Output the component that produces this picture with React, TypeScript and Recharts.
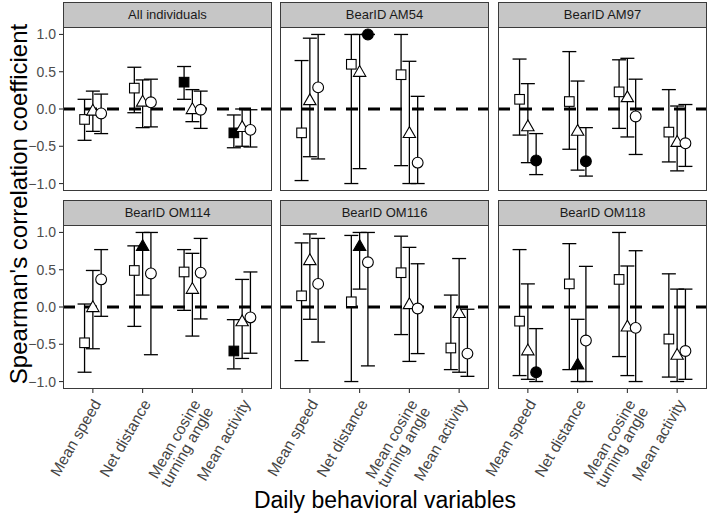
import React from "react";
import { ScatterChart, Scatter, XAxis, YAxis, ErrorBar, ReferenceLine } from "recharts";

// Behavioural variables on the x axis of every facet
const categories = ["Mean speed", "Net distance", "Mean cosine\nturning angle", "Mean activity"];
const markerShapes = ["square", "triangle", "circle"];
const yTicks = [-1, -0.5, 0, 0.5, 1];
const yTickLabels = ["\u22121.0", "\u22120.5", "0.0", "0.5", "1.0"];
const facetTitles = ["All individuals", "BearID AM54", "BearID AM97", "BearID OM114", "BearID OM116", "BearID OM118"];

// Rows: square, triangle, circle series; columns follow `categories`
const allEst = [[-0.14, 0.28, 0.36, -0.32], [-0.02, 0.1, 0.0, -0.24], [-0.06, 0.09, -0.01, -0.28]];
const allLow = [[-0.42, -0.05, 0.13, -0.52], [-0.3, -0.25, -0.17, -0.5], [-0.33, -0.24, -0.26, -0.51]];
const allHigh = [[0.13, 0.56, 0.57, -0.08], [0.24, 0.39, 0.26, 0.0], [0.2, 0.4, 0.24, -0.01]];
const allSig = [[0, 0, 1, 1], [0, 0, 0, 0], [0, 0, 0, 0]];

const am54Est = [[-0.32, 0.6, 0.46, null], [0.12, 0.5, -0.32, null], [0.29, 1.0, -0.72, null]];
const am54Low = [[-0.96, -1.0, -0.76, null], [-0.64, -0.8, -1.0, null], [-0.67, 1.0, -1.0, null]];
const am54High = [[0.65, 1.0, 1.0, null], [0.95, 1.0, 0.64, null], [1.0, 1.0, 0.17, null]];
const am54Sig = [[0, 0, 0, 0], [0, 0, 0, 0], [0, 1, 0, 0]];

const am97Est = [[0.13, 0.1, 0.23, -0.31], [-0.23, -0.29, 0.16, -0.44], [-0.69, -0.7, -0.1, -0.46]];
const am97Low = [[-0.35, -0.54, -0.26, -0.71], [-0.72, -0.82, -0.375, -0.83], [-0.88, -0.9, -0.61, -0.77]];
const am97High = [[0.67, 0.77, 0.66, 0.26], [0.34, 0.375, 0.68, 0.04], [-0.33, -0.25, 0.4, 0.06]];
const am97Sig = [[0, 0, 0, 0], [0, 0, 0, 0], [1, 1, 0, 0]];

const om114Est = [[-0.48, 0.49, 0.47, -0.59], [0.0, 0.82, 0.245, -0.19], [0.37, 0.45, 0.46, -0.14]];
const om114Low = [[-0.875, -0.26, -0.045, -0.83], [-0.56, 0.16, -0.39, -0.69], [-0.125, -0.64, -0.16, -0.62]];
const om114High = [[0.04, 0.82, 0.77, -0.17], [0.49, 1.0, 0.72, 0.37], [0.77, 1.0, 0.92, 0.47]];
const om114Sig = [[0, 0, 0, 1], [0, 1, 0, 0], [0, 0, 0, 0]];

const om116Est = [[0.15, 0.07, 0.46, -0.55], [0.63, 0.82, 0.04, -0.08], [0.31, 0.6, -0.02, -0.625]];
const om116Low = [[-0.72, -1.0, -0.37, -0.84], [-0.165, 0.24, -0.73, -0.875], [-0.47, -0.79, -0.625, -0.93]];
const om116High = [[0.86, 0.96, 0.95, 0.16], [0.98, 1.0, 0.8, 0.65], [0.92, 1.0, 0.58, -0.03]];
const om116Sig = [[0, 0, 0, 0], [0, 1, 0, 0], [0, 0, 0, 0]];

const om118Est = [[-0.19, 0.31, 0.37, -0.43], [-0.58, -0.77, -0.26, -0.64], [-0.875, -0.45, -0.28, -0.59]];
const om118Low = [[-0.92, -0.84, -0.665, -0.94], [-0.97, -1.0, -0.92, -1.0], [-1.0, -1.0, -1.0, -0.97]];
const om118High = [[0.77, 0.85, 1.0, 0.445], [0.31, -0.165, 0.55, 0.24], [-0.29, 0.545, 0.755, 0.24]];
const om118Sig = [[0, 0, 0, 0], [0, 1, 0, 0], [1, 0, 0, 0]];

const FONT = "'Liberation Sans', Arial, Helvetica, sans-serif";
const DODGE = 1 / 6;

type Pt = { x: number; y: number; err: [number, number]; shape: string; sig: boolean };

function buildPoints(est: (number | null)[][], low: (number | null)[][], high: (number | null)[][], sig: number[][]): Pt[] {
  const pts: Pt[] = [];
  est.forEach((row, s) => {
    row.forEach((v, c) => {
      if (v === null) return;
      const lo = low[s][c] as number;
      const hi = high[s][c] as number;
      pts.push({
        x: c + 1 + (s - 1) * DODGE,
        y: v,
        err: [v - lo, hi - v],
        shape: markerShapes[s],
        sig: sig[s][c] === 1,
      });
    });
  });
  return pts;
}

const facetData = [
  buildPoints(allEst, allLow, allHigh, allSig),
  buildPoints(am54Est, am54Low, am54High, am54Sig),
  buildPoints(am97Est, am97Low, am97High, am97Sig),
  buildPoints(om114Est, om114Low, om114High, om114Sig),
  buildPoints(om116Est, om116Low, om116High, om116Sig),
  buildPoints(om118Est, om118Low, om118High, om118Sig),
];

const Marker = (props: any) => {
  const { cx, cy, payload } = props;
  if (cx == null || cy == null) return null;
  const fill = payload.sig ? "#000" : "#fff";
  const common = { fill, stroke: "#000", strokeWidth: 1.1 };
  if (payload.shape === "square") {
    const h = 4.8;
    return <rect x={cx - h} y={cy - h} width={2 * h} height={2 * h} {...common} />;
  }
  if (payload.shape === "triangle") {
    const w = 6.2;
    const top = cy - 6.2;
    const bot = cy + 4.6;
    return <polygon points={`${cx},${top} ${cx - w},${bot} ${cx + w},${bot}`} {...common} />;
  }
  return <circle cx={cx} cy={cy} r={5.4} {...common} />;
};

const CategoryTick = (props: any) => {
  const { x, y, payload } = props;
  const label = categories[Math.round(payload.value) - 1] || "";
  const lines = label.split("\n");
  return (
    <g transform={`translate(${x - 1},${y + 3}) rotate(-60)`}>
      <text textAnchor="end" fontSize={15.5} fill="#444" fontFamily={FONT}>
        {lines.map((l, i) => (
          <tspan key={i} x={0} dy={i === 0 ? "0.72em" : "0.95em"}>
            {l}
          </tspan>
        ))}
      </text>
    </g>
  );
};

const PANEL_W = 209;
const PANEL_H = 164;
const LEFT_PAD = 60;
const X_AXIS_H = 125;
const colX = [63, 280, 498];
const rowTop = [27, 225];
const stripH = 25;

function Facet({ index }: { index: number }) {
  const col = index % 3;
  const row = Math.floor(index / 3);
  const showY = col === 0;
  const showX = row === 1;
  const left = colX[col] - LEFT_PAD;
  const width = PANEL_W + LEFT_PAD;
  const height = PANEL_H + (showX ? X_AXIS_H : 0);
  return (
    <>
      <div
        style={{
          position: "absolute",
          left: colX[col],
          top: rowTop[row] - stripH,
          width: PANEL_W,
          height: stripH + 1,
          boxSizing: "border-box",
          background: "#c6c6c6",
          border: "1.2px solid #3a3a3a",
          fontFamily: FONT,
          fontSize: 13,
          color: "#1a1a1a",
          textAlign: "center",
          lineHeight: `${stripH - 1}px`,
        }}
      >
        {facetTitles[index]}
      </div>
      <div style={{ position: "absolute", left, top: rowTop[row] }}>
        <ScatterChart
          width={width}
          height={height}
          margin={{ top: 0, right: 0, bottom: 0, left: showY ? 0 : LEFT_PAD }}
        >
          <XAxis
            type="number"
            dataKey="x"
            domain={[0.4, 4.6]}
            ticks={[1, 2, 3, 4]}
            interval={0}
            hide={!showX}
            height={showX ? X_AXIS_H : 0}
            axisLine={false}
            tickLine={{ stroke: "#333", strokeWidth: 1.1 }}
            tickSize={4}
            tick={<CategoryTick />}
          />
          <YAxis
            type="number"
            dataKey="y"
            domain={[-1.1, 1.1]}
            ticks={yTicks}
            interval={0}
            hide={!showY}
            width={showY ? LEFT_PAD : 0}
            axisLine={false}
            tickLine={{ stroke: "#333", strokeWidth: 1.1 }}
            tickSize={4}
            tickMargin={3}
            tickFormatter={(v: number) => yTickLabels[yTicks.indexOf(v)] ?? String(v)}
            tick={{ fontSize: 14, fill: "#4d4d4d", fontFamily: FONT }}
          />
          <ReferenceLine y={0} stroke="#000" strokeWidth={3} strokeDasharray="12 10" />
          <Scatter data={facetData[index]} shape={<Marker />} isAnimationActive={false}>
            <ErrorBar dataKey="err" direction="y" width={7} stroke="#000" strokeWidth={1.3} />
          </Scatter>
        </ScatterChart>
      </div>
      <div
        style={{
          position: "absolute",
          left: colX[col],
          top: rowTop[row],
          width: PANEL_W,
          height: PANEL_H,
          boxSizing: "border-box",
          border: "1.2px solid #3a3a3a",
          pointerEvents: "none",
        }}
      />
    </>
  );
}

export default function App() {
  return (
    <div style={{ position: "absolute", left: 0, top: 0, width: 709, height: 517, background: "#fff", overflow: "hidden" }}>
      {facetTitles.map((_, i) => (
        <Facet key={i} index={i} />
      ))}
      <div
        style={{
          position: "absolute",
          left: 19 - 200,
          top: 204 - 15,
          width: 400,
          height: 30,
          lineHeight: "30px",
          textAlign: "center",
          transform: "rotate(-90deg)",
          fontFamily: FONT,
          fontSize: 24,
          color: "#000",
        }}
      >
        Spearman's correlation coefficient
      </div>
      <div
        style={{
          position: "absolute",
          left: 63,
          top: 485,
          width: 644,
          height: 30,
          lineHeight: "30px",
          textAlign: "center",
          fontFamily: FONT,
          fontSize: 23,
          color: "#000",
        }}
      >
        Daily behavioral variables
      </div>
    </div>
  );
}
